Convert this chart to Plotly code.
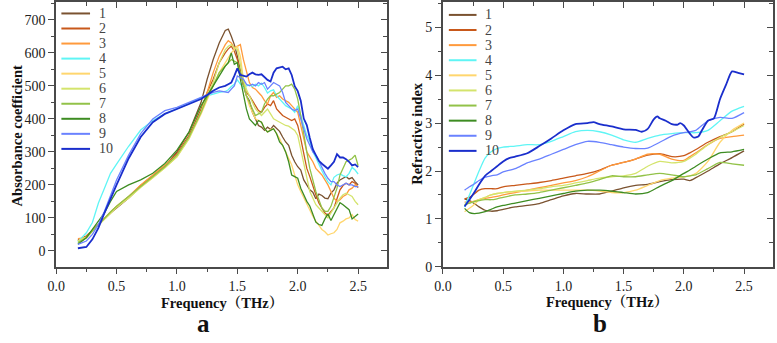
import plotly.graph_objects as go

# ---------------- data ----------------
LABELS = ["1", "2", "3", "4", "5", "6", "7", "8", "9", "10"]
COLORS = ["#7a5230", "#c8581a", "#ff9a3c", "#5ff5f5", "#ffd66e",
          "#d4e46c", "#92c248", "#3d8c22", "#6a82ff", "#1a2ecc"]

X_TICKS = [0.0, 0.5, 1.0, 1.5, 2.0, 2.5]
X_TICKTEXT = ["0.0", "0.5", "1.0", "1.5", "2.0", "2.5"]

# Panel a: absorbance coefficient (coarse below 1.4 THz, 0.025 THz steps above)
FREQ_A = [0.18, 0.25, 0.3, 0.35, 0.4, 0.45, 0.5, 0.6, 0.7, 0.8, 0.9, 1.0, 1.1, 1.2, 1.25, 1.3, 1.35,
          1.4, 1.425, 1.45, 1.475, 1.5, 1.525, 1.55, 1.575, 1.6, 1.625,
          1.65, 1.675, 1.7, 1.725, 1.75, 1.775, 1.8, 1.825, 1.85, 1.875,
          1.9, 1.925, 1.95, 1.975, 2.0, 2.025, 2.05, 2.075, 2.1, 2.125,
          2.15, 2.175, 2.2, 2.225, 2.25, 2.275, 2.3, 2.325, 2.35, 2.375,
          2.4, 2.425, 2.45, 2.475, 2.5]
ABS_1 = [30, 45, 62, 80, 100, 115, 130, 160, 195, 225, 255, 300, 360, 450, 520, 580, 630,
         668, 672, 650, 625, 590, 540, 500, 470, 455, 420, 400, 380, 375, 365, 375, 368, 380, 370, 362, 345,
         330, 320, 290, 270, 255, 245, 215, 200, 185, 178, 158, 172, 168, 160, 158, 175, 185, 205, 215, 220,
         225, 218, 222, 210, 200]
ABS_2 = [33, 45, 62, 80, 100, 117, 133, 163, 198, 228, 258, 295, 350, 430, 480, 520, 570,
         600, 612, 620, 605, 580, 545, 505, 480, 470, 455, 440, 425, 420, 435, 445, 440, 455, 430, 420, 410,
         405, 400, 395, 400, 380, 340, 300, 250, 225, 195, 170, 145, 128, 115, 108, 120, 130, 158, 185, 198,
         205, 200, 210, 205, 192]
ABS_3 = [37, 40, 60, 80, 100, 118, 135, 165, 200, 230, 258, 290, 345, 420, 480, 540, 590,
         625, 637, 630, 615, 620, 625, 580, 545, 510, 495, 490, 480, 470, 455, 445, 470, 480, 465, 470, 460,
         455, 450, 440, 430, 420, 380, 335, 300, 285, 270, 250, 240, 230, 215, 200, 180, 160, 150, 155, 165,
         170, 185, 190, 200, 195]
ABS_4 = [28, 55, 86, 145, 190, 235, 263, 317, 366, 395, 415, 430, 446, 464, 470, 475, 480,
         483, 488, 498, 505, 518, 505, 493, 500, 503, 498, 505, 500, 508, 495, 478, 485, 488, 470, 459, 450,
         440, 435, 430, 420, 440, 410, 380, 350, 331, 300, 282, 260, 243, 225, 209, 200, 223, 230, 233, 228,
         224, 235, 253, 245, 233]
ABS_5 = [30, 42, 60, 78, 98, 115, 132, 160, 193, 222, 252, 285, 340, 415, 460, 500, 540,
         570, 585, 600, 610, 620, 590, 520, 470, 440, 420, 400, 395, 390, 370, 360, 368, 370, 355, 340, 320,
         300, 280, 260, 230, 200, 180, 160, 140, 120, 105, 90, 77, 65, 58, 48, 52, 55, 65, 85, 90,
         97, 100, 110, 95, 90]
ABS_6 = [30, 42, 60, 78, 98, 115, 132, 160, 193, 222, 252, 285, 340, 420, 470, 510, 570,
         610, 620, 625, 615, 610, 560, 520, 490, 470, 450, 430, 420, 410, 420, 430, 415, 400, 395, 390, 385,
         380, 378, 370, 365, 350, 310, 270, 220, 180, 160, 140, 130, 120, 110, 100, 115, 130, 145, 160, 170,
         175, 170, 165, 150, 140]
ABS_7 = [25, 40, 60, 80, 100, 118, 135, 165, 197, 227, 255, 290, 345, 420, 465, 500, 540,
         560, 570, 580, 575, 570, 540, 500, 470, 450, 430, 410, 415, 420, 445, 460, 470, 470, 475, 480, 490,
         500, 500, 505, 490, 460, 410, 350, 300, 250, 215, 180, 155, 130, 120, 120, 135, 160, 190, 230, 250,
         270, 275, 280, 290, 258]
ABS_8 = [20, 40, 65, 90, 115, 150, 180, 200, 215, 235, 265, 305, 360, 440, 470, 500, 530,
         560, 570, 600, 565, 570, 520, 470, 430, 400, 390, 380, 395, 390, 370, 360, 365, 370, 355, 330, 320,
         300, 270, 230, 225, 220, 190, 170, 150, 136, 110, 87, 80, 77, 97, 112, 92, 110, 126, 146, 140,
         132, 125, 97, 105, 112]
ABS_9 = [20, 30, 50, 80, 120, 165, 215, 290, 355, 400, 425, 435, 450, 465, 472, 480, 485,
         482, 480, 490, 500, 530, 525, 520, 505, 500, 505, 500, 510, 505, 510, 490, 500, 510, 505, 500, 480,
         450, 440, 430, 425, 430, 400, 370, 340, 320, 300, 290, 270, 250, 235, 220, 210, 210, 200, 195, 200,
         205, 200, 200, 195, 195]
ABS_10 = [8, 12, 35, 70, 115, 160, 200, 280, 345, 390, 415, 430, 445, 460, 472, 485, 495,
          500, 505, 510, 530, 553, 533, 530, 528, 535, 540, 535, 533, 535, 525, 518, 513, 540, 553, 555, 558,
          550, 553, 533, 499, 484, 455, 401, 381, 342, 308, 290, 273, 264, 255, 249, 259, 270, 293, 283, 283,
          278, 270, 259, 262, 254]

# Panel b: refractive index
FREQ_B = [0.18, 0.22, 0.26, 0.3, 0.35, 0.4, 0.45, 0.5, 0.6, 0.7, 0.8, 0.9, 1.0, 1.1, 1.2, 1.3, 1.4,
          1.5, 1.6, 1.7, 1.8, 1.9, 2.0, 2.05, 2.1, 2.2, 2.3, 2.4, 2.5]
RI_1 = [1.42, 1.38, 1.32, 1.25, 1.18, 1.16, 1.17, 1.2, 1.25, 1.28, 1.32, 1.4, 1.48, 1.53, 1.52, 1.52, 1.58,
        1.65, 1.7, 1.72, 1.78, 1.82, 1.83, 1.8, 1.86, 2.0, 2.15, 2.28, 2.42]
RI_2 = [1.42, 1.45, 1.52, 1.6, 1.63, 1.63, 1.63, 1.67, 1.7, 1.73, 1.76, 1.8, 1.85, 1.9, 1.95, 2.02, 2.12,
        2.18, 2.25, 2.33, 2.36, 2.3, 2.32, 2.38, 2.45, 2.6, 2.72, 2.82, 2.98]
RI_3 = [1.35, 1.35, 1.37, 1.4, 1.43, 1.45, 1.47, 1.5, 1.55, 1.6, 1.65, 1.7, 1.75, 1.8, 1.88, 2.0, 2.12,
        2.18, 2.25, 2.35, 2.35, 2.25, 2.22, 2.3, 2.38, 2.55, 2.68, 2.72, 2.75]
RI_4 = [1.25, 1.5, 1.75, 2.0, 2.27, 2.4, 2.47, 2.5, 2.52, 2.55, 2.55, 2.62, 2.72, 2.82, 2.85, 2.82, 2.75,
        2.65, 2.6, 2.68, 2.75, 2.78, 2.8, 2.8, 2.8, 2.85, 3.05, 3.25, 3.35]
RI_5 = [1.15, 1.22, 1.3, 1.4, 1.45, 1.5, 1.53, 1.55, 1.57, 1.58, 1.6, 1.6, 1.6, 1.6, 1.6, 1.58, 1.55,
        1.55, 1.6, 1.7, 1.8, 1.85, 1.88, 1.9, 1.95, 2.2, 2.6, 2.85, 3.0]
RI_6 = [1.3, 1.33, 1.36, 1.4, 1.45, 1.5, 1.53, 1.55, 1.58, 1.6, 1.63, 1.67, 1.7, 1.75, 1.8, 1.85, 1.88,
        1.9, 1.95, 2.1, 2.2, 2.17, 2.2, 2.27, 2.35, 2.55, 2.7, 2.82, 2.95]
RI_7 = [1.3, 1.33, 1.36, 1.38, 1.4, 1.4, 1.42, 1.45, 1.5, 1.52, 1.55, 1.6, 1.65, 1.7, 1.75, 1.82, 1.9,
        1.88, 1.88, 1.92, 1.95, 1.92, 1.88, 1.9, 1.92, 2.05, 2.18, 2.15, 2.12]
RI_8 = [1.22, 1.13, 1.11, 1.12, 1.15, 1.2, 1.25, 1.28, 1.33, 1.38, 1.43, 1.48, 1.53, 1.58, 1.6, 1.6, 1.58,
        1.55, 1.52, 1.55, 1.68, 1.8, 1.95, 2.02, 2.1, 2.25, 2.38, 2.4, 2.45]
RI_9 = [1.6, 1.67, 1.73, 1.8, 1.87, 1.9, 1.92, 1.98, 2.05, 2.17, 2.25, 2.35, 2.45, 2.55, 2.62, 2.6, 2.55,
        2.5, 2.47, 2.48, 2.6, 2.73, 2.8, 2.82, 2.85, 3.05, 3.12, 3.1, 3.22]
FREQ_B10 = [0.18, 0.22, 0.26, 0.3, 0.35, 0.4, 0.45, 0.5, 0.55, 0.6, 0.7, 0.8, 0.9, 1.0, 1.1, 1.2, 1.25,
            1.3, 1.4, 1.5, 1.6, 1.65, 1.7, 1.75, 1.78, 1.8, 1.85, 1.9, 1.95, 1.97, 2.0, 2.05, 2.08,
            2.12, 2.15, 2.2, 2.25, 2.3, 2.35, 2.4, 2.45, 2.5]
RI_10 = [1.26, 1.4, 1.55, 1.72, 1.9, 2.0, 2.1, 2.2, 2.27, 2.3, 2.37, 2.52, 2.68, 2.85, 2.98, 3.0, 3.02,
         2.98, 2.93, 2.87, 2.86, 2.82, 2.88, 3.08, 3.14, 3.1, 3.05, 2.98, 2.97, 3.0, 2.95, 2.78, 2.7,
         2.72, 2.85, 3.05, 3.1, 3.5, 3.8, 4.08, 4.05, 4.02]

ABS_SERIES = [ABS_1, ABS_2, ABS_3, ABS_4, ABS_5, ABS_6, ABS_7, ABS_8, ABS_9, ABS_10]
RI_SERIES = [RI_1, RI_2, RI_3, RI_4, RI_5, RI_6, RI_7, RI_8, RI_9, RI_10]
RI_FREQS = [FREQ_B] * 9 + [FREQ_B10]

# ---------------- figure ----------------
W, H = 777, 343
SERIF = "Liberation Serif, Times New Roman, Noto Serif CJK SC, Noto Sans CJK SC, serif"
AXC = "#4a4a4a"

fig = go.Figure()
for i in range(10):
    fig.add_trace(go.Scatter(x=FREQ_A, y=ABS_SERIES[i], mode="lines", name=LABELS[i],
                             line=dict(color=COLORS[i], width=1.8 if i == 9 else 1.3),
                             showlegend=False, xaxis="x", yaxis="y"))
for i in range(10):
    fig.add_trace(go.Scatter(x=RI_FREQS[i], y=RI_SERIES[i], mode="lines", name=LABELS[i],
                             line=dict(color=COLORS[i], width=1.8 if i == 9 else 1.3,
                                       shape="spline", smoothing=0.6),
                             showlegend=False, xaxis="x2", yaxis="y2"))

# invisible helper traces so the mirrored (inside-tick) axes get drawn
for xa, ya, xs, ys in [("x3", "y", FREQ_A, ABS_1), ("x", "y3", FREQ_A, ABS_1),
                       ("x4", "y2", FREQ_B, RI_1), ("x2", "y4", FREQ_B, RI_1)]:
    fig.add_trace(go.Scatter(x=xs, y=ys, mode="lines", xaxis=xa, yaxis=ya, opacity=0,
                             line=dict(width=0), hoverinfo="skip", showlegend=False))

DOM_A = [47.7 / W, 382.3 / W]
DOM_B = [439.0 / W, 772.7 / W]
DOM_Y = [(H - 272.7) / H, 1.0]
XR = [0, 2.738]
YA = [-48, 754]
YB = [0, 5.53]

tickfont = dict(family=SERIF, size=14, color="#222")


def main_x(dom, anchor):
    return dict(domain=dom, range=XR, anchor=anchor, tickvals=X_TICKS, ticktext=X_TICKTEXT,
                ticks="outside", ticklen=6, tickwidth=1.2, tickcolor=AXC,
                showline=True, linecolor=AXC, linewidth=1.5, mirror=True,
                showgrid=False, zeroline=False, tickfont=tickfont,
                minor=dict(ticks="outside", ticklen=3.5, tick0=0, dtick=0.25, tickcolor=AXC, tickwidth=1.2))


def main_y(rng, dtick, minor, anchor):
    return dict(domain=DOM_Y, range=rng, anchor=anchor, tick0=0, dtick=dtick,
                ticks="outside", ticklen=6, tickwidth=1.2, tickcolor=AXC,
                showline=True, linecolor=AXC, linewidth=1.5, mirror=True,
                showgrid=False, zeroline=False, tickfont=tickfont,
                minor=dict(ticks="outside", ticklen=3.5, tick0=0, dtick=minor, tickcolor=AXC, tickwidth=1.2))


def mirror_x(over, anchor):
    return dict(overlaying=over, side="top", anchor=anchor, range=XR, tickvals=X_TICKS,
                ticks="inside", ticklen=6, tickwidth=1.2, tickcolor=AXC, showticklabels=False,
                showline=False, showgrid=False, zeroline=False,
                minor=dict(ticks="inside", ticklen=3.5, tick0=0, dtick=0.25, tickcolor=AXC, tickwidth=1.2))


def mirror_y(over, anchor, rng, dtick, minor):
    return dict(overlaying=over, side="right", anchor=anchor, range=rng, tick0=0, dtick=dtick,
                ticks="inside", ticklen=6, tickwidth=1.2, tickcolor=AXC, showticklabels=False,
                showline=False, showgrid=False, zeroline=False,
                minor=dict(ticks="inside", ticklen=3.5, tick0=0, dtick=minor, tickcolor=AXC, tickwidth=1.2))


annotations = []
title_font = dict(family=SERIF, size=14.5, color="#111")
annotations.append(dict(text="<b>Frequency（THz）</b>", x=215 / W, y=(H - 310.5) / H, xref="paper", yref="paper",
                        xanchor="center", yanchor="middle", showarrow=False, font=title_font))
annotations.append(dict(text="<b>Frequency（THz）</b>", x=605 / W, y=(H - 309.5) / H, xref="paper", yref="paper",
                        xanchor="center", yanchor="middle", showarrow=False, font=title_font))
annotations.append(dict(text="<b>Absorbance coefficient</b>", x=8.5 / W, y=(H - 137) / H, xref="paper",
                        yref="paper", xanchor="center", yanchor="middle", textangle=-90, showarrow=False,
                        font=title_font))
annotations.append(dict(text="<b>Refractive index</b>", x=412.5 / W, y=(H - 135) / H, xref="paper",
                        yref="paper", xanchor="center", yanchor="middle", textangle=-90, showarrow=False,
                        font=title_font))
# panel letters: glyph baseline sits on the bottom edge
annotations.append(dict(text="<b>a</b>", x=197 / W, y=0, xref="paper", yref="paper",
                        xanchor="center", yanchor="bottom", yshift=-4, showarrow=False,
                        font=dict(family=SERIF, size=25, color="#111")))
annotations.append(dict(text="<b>b</b>", x=598 / W, y=0, xref="paper", yref="paper",
                        xanchor="center", yanchor="bottom", yshift=-4, showarrow=False,
                        font=dict(family=SERIF, size=25, color="#111")))

# custom legends (compact rows)
shapes = []
LEG = [dict(x0=53, x1=82, xt=89, y0=11.8, dy=15.5), dict(x0=445, x1=473, xt=480, y0=13.3, dy=15.56)]
for lg in LEG:
    for i in range(10):
        yy = (H - (lg["y0"] + i * lg["dy"])) / H
        shapes.append(dict(type="line", xref="paper", yref="paper", x0=lg["x0"] / W, x1=lg["x1"] / W,
                           y0=yy, y1=yy, line=dict(color=COLORS[i], width=2)))
        annotations.append(dict(text=LABELS[i], x=lg["xt"] / W, y=yy, xref="paper", yref="paper",
                                xanchor="left", yanchor="middle", showarrow=False,
                                font=dict(family=SERIF, size=14, color="#444")))

fig.update_layout(
    width=W, height=H, margin=dict(l=0, r=0, t=0, b=0),
    paper_bgcolor="white", plot_bgcolor="white", showlegend=False,
    xaxis=main_x(DOM_A, "y"), yaxis=main_y(YA, 100, 50, "x"),
    xaxis2=main_x(DOM_B, "y2"), yaxis2=main_y(YB, 1, 0.5, "x2"),
    xaxis3=mirror_x("x", "y"), yaxis3=mirror_y("y", "x", YA, 100, 50),
    xaxis4=mirror_x("x2", "y2"), yaxis4=mirror_y("y2", "x2", YB, 1, 0.5),
    annotations=annotations, shapes=shapes,
)

fig.write_html("out.html", config={"displayModeBar": False},
               post_script="document.body.style.margin='0';document.body.style.overflow='hidden';")
